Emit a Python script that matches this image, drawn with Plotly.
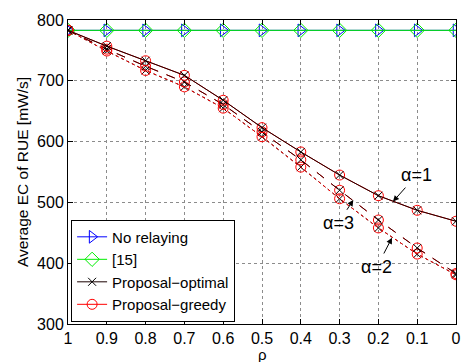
import plotly.graph_objects as go

rho = [1.0, 0.9, 0.8, 0.7, 0.6, 0.5, 0.4, 0.3, 0.2, 0.1, 0.0]
rho_labels = ["1", "0.9", "0.8", "0.7", "0.6", "0.5", "0.4", "0.3", "0.2", "0.1", "0"]

no_relaying = [783, 783, 783, 783, 783, 783, 783, 783, 783, 783, 783]
ref15 = [783, 783, 783, 783, 783, 783, 783, 783, 783, 783, 783]

opt_a1 = [783, 757, 733, 709, 668, 623, 583, 545, 511, 487, 469]
opt_a3 = [783, 752, 724, 698, 661, 616, 570, 520, 471, 425, 383]
opt_a2 = [783, 749, 717, 690, 655, 608, 558, 506, 458, 415, 381]

gr_a1 = [783, 757, 733, 709, 668, 623, 583, 545, 511, 487, 469]
gr_a3 = [783, 752, 724, 698, 661, 616, 570, 520, 471, 425, 383]
gr_a2 = [783, 749, 717, 690, 655, 608, 558, 506, 458, 415, 381]

FONT = "Liberation Sans, Arial, Helvetica, sans-serif"
TICK = 16

fig = go.Figure()

fig.add_trace(go.Scatter(
    x=rho, y=no_relaying, mode="lines+markers", name="No relaying",
    line=dict(color="#0000ff", width=1),
    marker=dict(symbol="triangle-right-open", size=11, color="#0000ff", line=dict(width=1)),
    legendrank=1))
fig.add_trace(go.Scatter(
    x=rho, y=ref15, mode="lines+markers", name="[15]",
    line=dict(color="#00ee00", width=1),
    marker=dict(symbol="diamond-open", size=11, color="#00ee00", line=dict(width=1)),
    legendrank=2))

def greedy(y, dash, show):
    fig.add_trace(go.Scatter(
        x=rho, y=y, mode="lines+markers", name="Proposal\u2212greedy",
        line=dict(color="#ff0000", width=1, dash=dash),
        marker=dict(symbol="circle-open", size=10, color="#ff0000", line=dict(width=1)),
        showlegend=show, legendrank=4))

def optimal(y, dash, show, color="#000000"):
    fig.add_trace(go.Scatter(
        x=rho, y=y, mode="lines+markers", name="Proposal\u2212optimal",
        line=dict(color=color, width=1, dash=dash),
        marker=dict(symbol="x-thin-open", size=8, color="#000000", line=dict(width=1, color="#000000")),
        showlegend=show, legendrank=3))

# dotted (alpha=2): black under red
optimal(opt_a2, "dot", False)
greedy(gr_a2, "dot", False)
# dashed (alpha=3)
greedy(gr_a3, "dash", False)
optimal(opt_a3, "dash", False, color="#3a0000")
# solid (alpha=1)
greedy(gr_a1, "solid", True)
optimal(opt_a1, "solid", True, color="#1a0000")

ann_font = dict(family=FONT, size=18, color="black")
annotations = [
    dict(x=0.1624, y=501.3, text="\u03b1=1", ax=24, ay=-27),
    dict(x=0.2647, y=504.0, text="\u03b1=3", ax=-15, ay=23),
    dict(x=0.165, y=441.8, text="\u03b1=2", ax=-15, ay=29),
]
for a in annotations:
    fig.add_annotation(x=a["x"], y=a["y"], xref="x", yref="y", text=a["text"],
                       ax=a["ax"], ay=a["ay"], axref="pixel", ayref="pixel",
                       showarrow=True, arrowhead=2, arrowsize=1.2, arrowwidth=1,
                       arrowcolor="black", font=ann_font, standoff=0, startstandoff=2)

# x-axis title as an annotation placed below the tick labels
fig.add_annotation(x=0.5, y=-0.1, xref="paper", yref="paper", text="\u03c1",
                   showarrow=False, xanchor="center", yanchor="middle",
                   font=dict(family=FONT, size=15, color="black"))

fig.update_xaxes(
    range=[1, 0], tickvals=rho, ticktext=rho_labels, automargin=False,
    showgrid=True, gridcolor="#8c8c8c", griddash="dot", gridwidth=1,
    zeroline=False, showline=True, linecolor="black", linewidth=1, mirror="allticks",
    ticks="inside", ticklen=5, tickcolor="black",
    tickfont=dict(family=FONT, size=TICK, color="black"))
fig.update_yaxes(
    range=[300, 800], dtick=100, automargin=False,
    showgrid=True, gridcolor="#8c8c8c", griddash="dot", gridwidth=1,
    zeroline=False, showline=True, linecolor="black", linewidth=1, mirror="allticks",
    ticks="inside", ticklen=5, tickcolor="black",
    title=dict(text="Average EC of RUE [mW/s]", font=dict(family=FONT, size=15.5, color="black"), standoff=4),
    tickfont=dict(family=FONT, size=TICK, color="black"))

fig.update_layout(
    width=465, height=362,
    margin=dict(l=68, r=9, t=20, b=38),
    paper_bgcolor="white", plot_bgcolor="white",
    font=dict(family=FONT, size=TICK, color="black"),
    legend=dict(x=0.008, y=0.008, xanchor="left", yanchor="bottom",
                bgcolor="white", bordercolor="black", borderwidth=1,
                font=dict(family=FONT, size=15, color="black"),
                tracegroupgap=0, itemwidth=30),
)

fig.write_html("out.html")
